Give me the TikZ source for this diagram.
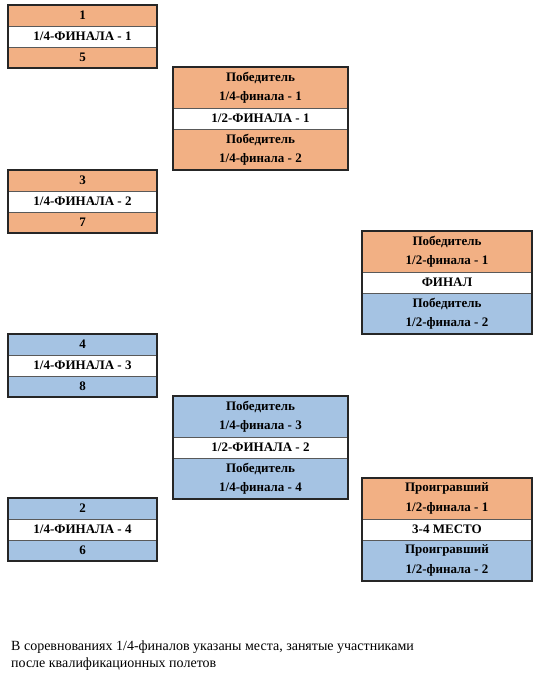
\documentclass[tikz,border=0pt]{standalone}
\usepackage{fontspec}
\setmainfont{Liberation Serif}
\usetikzlibrary{positioning}
\definecolor{seedorange}{HTML}{F2B084}
\definecolor{seedblue}{HTML}{A5C3E3}
\tikzset{
  cell/.style={draw=black!65, line width=0.6pt, inner sep=0pt, outer sep=0pt,
    minimum height=21pt, align=center, anchor=north,
    font=\fontsize{13}{19.5}\selectfont\bfseries},
  orangecell/.style={cell, fill=seedorange},
  bluecell/.style={cell, fill=seedblue},
  whitecell/.style={cell, fill=white},
  tall/.style={minimum height=41pt},
  qfw/.style={minimum width=149pt},
  sfw/.style={minimum width=175pt},
  fw/.style={minimum width=170pt},
  frame/.style={draw=black!85, line width=1.6pt},
}
\begin{document}
\begin{tikzpicture}[x=1pt, y=-1pt]
\useasboundingbox (0,0) rectangle (539,678);
% 1/4-finals
\node[orangecell, qfw] (qf1a) at (82.5,5) {1};
\node[whitecell, qfw, below=0pt of qf1a] (qf1b) {1/4-ФИНАЛА - 1};
\node[orangecell, qfw, below=0pt of qf1b] (qf1c) {5};
\node[orangecell, qfw] (qf2a) at (82.5,170) {3};
\node[whitecell, qfw, below=0pt of qf2a] (qf2b) {1/4-ФИНАЛА - 2};
\node[orangecell, qfw, below=0pt of qf2b] (qf2c) {7};
\node[bluecell, qfw] (qf3a) at (82.5,334) {4};
\node[whitecell, qfw, below=0pt of qf3a] (qf3b) {1/4-ФИНАЛА - 3};
\node[bluecell, qfw, below=0pt of qf3b] (qf3c) {8};
\node[bluecell, qfw] (qf4a) at (82.5,498) {2};
\node[whitecell, qfw, below=0pt of qf4a] (qf4b) {1/4-ФИНАЛА - 4};
\node[bluecell, qfw, below=0pt of qf4b] (qf4c) {6};
% 1/2-finals
\node[orangecell, sfw, tall] (sf1a) at (260.5,67) {Победитель\\1/4-финала - 1};
\node[whitecell, sfw, below=0pt of sf1a] (sf1b) {1/2-ФИНАЛА - 1};
\node[orangecell, sfw, tall, below=0pt of sf1b] (sf1c) {Победитель\\1/4-финала - 2};
\node[bluecell, sfw, tall] (sf2a) at (260.5,396) {Победитель\\1/4-финала - 3};
\node[whitecell, sfw, below=0pt of sf2a] (sf2b) {1/2-ФИНАЛА - 2};
\node[bluecell, sfw, tall, below=0pt of sf2b] (sf2c) {Победитель\\1/4-финала - 4};
% final and 3-4 place
\node[orangecell, fw, tall] (fina) at (447,231) {Победитель\\1/2-финала - 1};
\node[whitecell, fw, below=0pt of fina] (finb) {ФИНАЛ};
\node[bluecell, fw, tall, below=0pt of finb] (finc) {Победитель\\1/2-финала - 2};
\node[orangecell, fw, tall] (thra) at (447,478) {Проигравший\\1/2-финала - 1};
\node[whitecell, fw, below=0pt of thra] (thrb) {3-4 МЕСТО};
\node[bluecell, fw, tall, below=0pt of thrb] (thrc) {Проигравший\\1/2-финала - 2};
% outer frames
\foreach \top/\bot in {qf1a/qf1c, qf2a/qf2c, qf3a/qf3c, qf4a/qf4c, sf1a/sf1c, sf2a/sf2c, fina/finc, thra/thrc}
  \draw[frame] (\top.north west) rectangle (\bot.south east);
% note
\node[anchor=base west, align=left, inner sep=0pt, font=\fontsize{14}{17}\selectfont] (note) at (11,667)
  {В соревнованиях 1/4-финалов указаны места, занятые участниками\\после квалификационных полетов};
\end{tikzpicture}
\end{document}
